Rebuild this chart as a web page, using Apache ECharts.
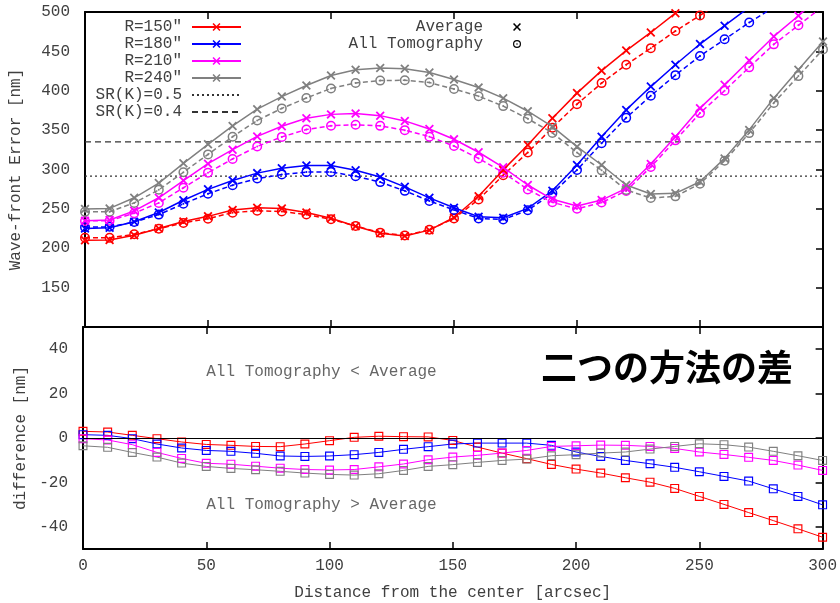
<!DOCTYPE html>
<html>
<head>
<meta charset="utf-8">
<script src="https://cdn.jsdelivr.net/npm/echarts@6/dist/echarts.min.js"></script>
<style>
  html, body { margin: 0; padding: 0; background: #fff; }
  #main { width: 840px; height: 603px; }
</style>
</head>
<body>
<div id="main"></div>
<script>
// distance from the center [arcsec]
const distance = [0, 10, 20, 30, 40, 50, 60, 70, 80, 90, 100, 110, 120, 130, 140, 150,
  160, 170, 180, 190, 200, 210, 220, 230, 240, 250, 260, 270, 280, 290, 300]

// wave-front error [nm], Average
const avgR150 = [210.3, 210.5, 216.5, 225.0, 234.0, 240.5, 248.5, 251.5, 250.5, 245.5, 238.0, 228.0, 219.0, 215.5, 223.0, 239.0,
  266.0, 299.5, 331.0, 365.0, 397.0, 425.5, 451.0, 474.0, 498.5, 522, 545, 567, 589, 610, 631]
const avgR180 = [225.2, 226.0, 233.6, 245.4, 260.9, 274.8, 286.1, 295.4, 301.7, 305.0, 305.0, 299.0, 290.5, 278.0, 264.0, 251.4,
  240.1, 238.7, 250.6, 273.0, 305.7, 341.7, 375.7, 405.3, 433.0, 459.3, 482.6, 506, 529, 552, 575]
const avgR210 = [235.0, 235.8, 247.5, 264.1, 286.0, 307.4, 325.2, 342.0, 355.0, 365.0, 370.0, 371.0, 368.4, 361.7, 351.5, 338.4,
  321.9, 302.8, 280.3, 262.1, 253.6, 261.2, 276.1, 307.0, 341.7, 377.9, 407.5, 438.4, 469.0, 495.3, 522]
const avgR240 = [249.7, 250.6, 264.1, 282.8, 307.8, 332.0, 355.3, 376.6, 392.6, 406.6, 419.3, 426.6, 429.0, 427.9, 423.2, 414.2,
  404.1, 390.6, 374.0, 354.5, 329.0, 305.7, 280.3, 268.8, 269.7, 284.5, 314.1, 350.3, 390.6, 426.6, 462.6]

// wave-front error [nm], All Tomography
const tomoR150 = [213.3, 213.2, 217.7, 224.7, 232.2, 237.6, 245.2, 247.7, 246.6, 242.8, 236.8, 228.3, 219.8, 216.1, 223.5, 237.9,
  261.9, 292.7, 321.7, 353.1, 383.0, 409.7, 433.1, 454.1, 475.8, 495.7, 515, 533, 552, 569, 586]
const tomoR180 = [226.7, 227.2, 233.3, 242.7, 256.4, 269.2, 280.1, 288.5, 293.6, 296.7, 296.9, 291.5, 284.0, 272.9, 260.1, 248.7,
  237.8, 236.4, 248.3, 269.7, 299.4, 333.4, 365.6, 393.7, 419.8, 444.1, 465.3, 486.6, 506, 526, 545]
const tomoR210 = [234.7, 234.9, 244.5, 257.6, 276.8, 296.0, 313.4, 329.3, 341.4, 350.8, 355.6, 356.8, 355.4, 350.0, 341.7, 329.8,
  314.1, 296.0, 274.7, 258.3, 250.1, 258.0, 272.8, 303.2, 337.0, 371.6, 400.1, 429.7, 458.9, 483.1, 507]
const tomoR240 = [246.2, 246.4, 257.6, 274.2, 296.5, 319.2, 341.6, 362.3, 377.6, 390.8, 402.9, 409.9, 412.9, 413.3, 410.4, 402.2,
  393.1, 380.5, 364.5, 346.5, 321.5, 298.9, 274.0, 263.8, 265.9, 281.9, 311.1, 346.2, 384.6, 418.6, 452.5]

// difference [nm]
const diffR150 = [3.0, 2.7, 1.2, -0.3, -1.8, -2.9, -3.3, -3.8, -3.9, -2.7, -1.2, 0.3, 0.8, 0.6, 0.5, -1.1,
  -4.1, -6.8, -9.3, -11.9, -14.0, -15.8, -17.9, -19.9, -22.7, -26.3, -29.9, -33.6, -37.2, -40.9, -44.7]
const diffR180 = [1.5, 1.2, -0.3, -2.7, -4.5, -5.6, -6.0, -6.9, -8.1, -8.3, -8.1, -7.5, -6.5, -5.1, -3.9, -2.7,
  -2.3, -2.3, -2.3, -3.3, -6.3, -8.3, -10.1, -11.6, -13.2, -15.2, -17.3, -19.4, -22.9, -26.3, -30.1]
const diffR210 = [-0.3, -0.9, -3.0, -6.5, -9.2, -11.4, -11.8, -12.7, -13.6, -14.2, -14.4, -14.2, -13.0, -11.7, -9.8, -8.6,
  -7.8, -6.8, -5.6, -3.8, -3.5, -3.2, -3.3, -3.8, -4.7, -6.3, -7.4, -8.7, -10.1, -12.2, -14.6]
const diffR240 = [-3.5, -4.2, -6.5, -8.6, -11.3, -12.8, -13.7, -14.3, -15.0, -15.8, -16.4, -16.7, -16.1, -14.6, -12.8, -12.0,
  -11.0, -10.1, -9.5, -8.0, -7.5, -6.8, -6.3, -5.0, -3.8, -2.6, -3.0, -4.1, -6.0, -8.0, -10.1]

const radiusNames = ['R=150"', 'R=180"', 'R=210"', 'R=240"']
const srNames = ['SR(K)=0.5', 'SR(K)=0.4']
const srLevels = [291.5, 335.1]
const xRange = [0, 300]
const wfeTicks = [150, 200, 250, 300, 350, 400, 450, 500]
const diffTicks = [-40, -20, 0, 20, 40]
const noteTexts = ['All Tomography < Average', 'All Tomography > Average']
const notePos = [[50, 30], [50, -30]]
const bigNote = '二つの方法の差'

const colors = ['#ff0000', '#0000ff', '#ff00ff', '#808080']
const MONO = '"Liberation Mono", "DejaVu Sans Mono", monospace'
const TXT = '#404040'

const CROSS = 'path://M0,1.4L1.4,0L5,3.6L8.6,0L10,1.4L6.4,5L10,8.6L8.6,10L5,6.4L1.4,10L0,8.6L3.6,5Z'
const DOTCIRCLE = 'path://M5,0A5,5,0,1,1,5,10A5,5,0,1,1,5,0ZM5,1.5A3.5,3.5,0,1,0,5,8.5A3.5,3.5,0,1,0,5,1.5ZM5,4A1,1,0,1,1,5,6A1,1,0,1,1,5,4Z'
const SQUARE = 'path://M0,0L10,0L10,10L0,10ZM1.3,1.3L1.3,8.7L8.7,8.7L8.7,1.3Z'

function pairs(values) {
  return distance.map((d, i) => [d, values[i]])
}

const avgs = [avgR150, avgR180, avgR210, avgR240]
const tomos = [tomoR150, tomoR180, tomoR210, tomoR240]
const diffs = [diffR150, diffR180, diffR210, diffR240]

const series = []
radiusNames.forEach((name, i) => {
  series.push({
    name: name, type: 'line', xAxisIndex: 0, yAxisIndex: 0,
    data: pairs(avgs[i]), symbol: CROSS, symbolSize: 9,
    lineStyle: { color: colors[i], width: 1.5 }, itemStyle: { color: colors[i] }, z: 4
  })
  series.push({
    name: name + ' tomo', type: 'line', xAxisIndex: 0, yAxisIndex: 0,
    data: pairs(tomos[i]), symbol: DOTCIRCLE, symbolSize: 10,
    lineStyle: { color: colors[i], width: 1.5, type: [5, 3] }, itemStyle: { color: colors[i] }, z: 3
  })
  series.push({
    name: name + ' diff', type: 'line', xAxisIndex: 2, yAxisIndex: 2,
    data: pairs(diffs[i]), symbol: SQUARE, symbolSize: 9,
    lineStyle: { color: colors[i], width: 1 }, itemStyle: { color: colors[i] }, z: 3,
    markLine: i === 0 ? {
      silent: true, symbol: ['none', 'none'], label: { show: false },
      lineStyle: { color: '#000', width: 1.2, type: 'solid' },
      data: [{ yAxis: 0 }]
    } : undefined
  })
})
srNames.forEach((name, i) => {
  series.push({
    name: name, type: 'line', xAxisIndex: 0, yAxisIndex: 0,
    data: xRange.map(x => [x, srLevels[i]]), symbol: 'none',
    lineStyle: { color: '#333', width: 1.3, type: i === 0 ? [2, 3] : [6, 4] },
    itemStyle: { color: '#333' }, z: 2
  })
})
series.push({
  name: 'Average', type: 'line', xAxisIndex: 0, yAxisIndex: 0, data: [],
  symbol: CROSS, itemStyle: { color: '#000' }, lineStyle: { color: '#000', width: 0 }
})
series.push({
  name: 'All Tomography', type: 'line', xAxisIndex: 0, yAxisIndex: 0, data: [],
  symbol: DOTCIRCLE, itemStyle: { color: '#000' }, lineStyle: { color: '#000', width: 0 }
})
series.push({
  name: 'notes', type: 'scatter', xAxisIndex: 2, yAxisIndex: 2, symbolSize: 0,
  data: notePos.map((p, i) => ({ value: p, label: { formatter: noteTexts[i] } })),
  label: { show: true, position: 'right', distance: 0, fontFamily: MONO, fontSize: 16, color: TXT }
})

function frameLine() {
  return { show: true, onZero: false, lineStyle: { color: '#000', width: 2 } }
}
function ticks(len) {
  return { show: true, inside: true, length: len, lineStyle: { color: '#000', width: 1.5 } }
}

function xAxis(grid, pos, labels) {
  const axis = {
    type: 'value', gridIndex: grid, position: pos, min: xRange[0], max: xRange[1], interval: 50,
    axisLine: frameLine(),
    axisTick: ticks(7),
    axisLabel: labels ? { show: true, fontFamily: MONO, fontSize: 16, color: TXT, margin: 9 } : { show: false },
    splitLine: { show: false }
  }
  if (labels) {
    axis.name = 'Distance from the center [arcsec]'
    axis.nameLocation = 'middle'
    axis.nameGap = 36
    axis.nameTextStyle = { fontFamily: MONO, fontSize: 16, color: TXT }
  }
  return axis
}

const chart = echarts.init(document.getElementById('main'), null, { renderer: 'canvas' })
chart.setOption({
  animation: false,
  backgroundColor: '#fff',
  grid: [
    { left: 83, top: 12, width: 740, height: 315 },
    { left: 83, top: 327, width: 740, height: 222 }
  ],
  xAxis: [xAxis(0, 'bottom', false), xAxis(0, 'top', false), xAxis(1, 'bottom', true), xAxis(1, 'top', false)],
  yAxis: [
    {
      type: 'value', gridIndex: 0, position: 'left', min: 100, max: 500,
      axisLine: frameLine(), axisTick: { show: false }, splitLine: { show: false },
      axisLabel: { customValues: wfeTicks, fontFamily: MONO, fontSize: 16, color: TXT, margin: 15 },
      name: 'Wave-front Error [nm]', nameLocation: 'middle', nameGap: 61,
      nameTextStyle: { fontFamily: MONO, fontSize: 16, color: TXT }
    },
    {
      type: 'value', gridIndex: 0, position: 'right', min: 100, max: 500, interval: 50,
      axisLine: frameLine(), axisTick: ticks(7), axisLabel: { show: false }, splitLine: { show: false }
    },
    {
      type: 'value', gridIndex: 1, position: 'left', min: -50, max: 50,
      axisLine: frameLine(), axisTick: { show: false }, splitLine: { show: false },
      axisLabel: { customValues: diffTicks, fontFamily: MONO, fontSize: 16, color: TXT, margin: 15 },
      name: 'difference [nm]', nameLocation: 'middle', nameGap: 50,
      nameTextStyle: { fontFamily: MONO, fontSize: 16, color: TXT }
    },
    {
      type: 'value', gridIndex: 1, position: 'right', min: -50, max: 50, splitNumber: 5,
      axisLine: frameLine(), axisTick: ticks(7), axisLabel: { show: false }, splitLine: { show: false }
    }
  ],
  legend: [
    {
      orient: 'vertical', align: 'right', right: 598, top: 19, padding: 0,
      itemWidth: 49, itemHeight: 10, itemGap: 1, selectedMode: false,
      textStyle: { fontFamily: MONO, fontSize: 16, color: TXT, padding: [0, 5, 0, 0] },
      data: radiusNames.concat(srNames.map(n => ({ name: n, itemStyle: { opacity: 0 } })))
    },
    {
      orient: 'vertical', align: 'right', right: 303, top: 19, padding: 0,
      itemWidth: 40, itemHeight: 10, itemGap: 1, selectedMode: false,
      textStyle: { fontFamily: MONO, fontSize: 16, color: TXT, padding: [0, 9, 0, 0] },
      data: [
        { name: 'Average', lineStyle: { opacity: 0 } },
        { name: 'All Tomography', lineStyle: { opacity: 0 } }
      ]
    }
  ],
  graphic: [{
    type: 'text', left: 541, top: 349,
    style: { text: bigNote, fontFamily: '"Noto Sans CJK JP", sans-serif', fontSize: 36, fontWeight: 'bold', fill: '#000' }
  }],
  series: series
})
</script>
</body>
</html>
